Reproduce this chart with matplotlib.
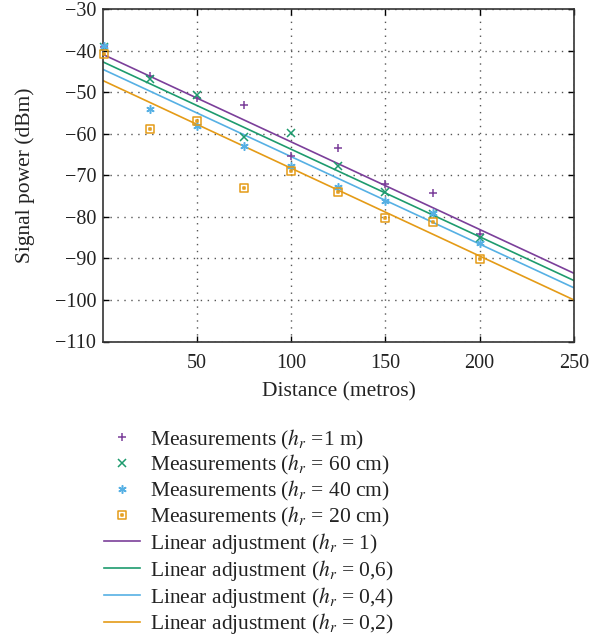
import numpy as np
import matplotlib
matplotlib.use("Agg")
import matplotlib.pyplot as plt
from matplotlib.path import Path

plt.rcParams['font.family'] = ['Liberation Serif', 'DejaVu Serif']
plt.rcParams['mathtext.fontset'] = 'stix'

# ---- data ----
distance = [1, 25, 50, 75, 100, 125, 150, 175, 200]
meas_1m = [-39.0, -46.1, -51.4, -53.1, -65.3, -63.5, -72.0, -74.3, -84.0]
meas_60cm = [-39.0, -46.9, -50.6, -60.8, -59.8, -67.7, -74.1, -79.2, -85.0]
meas_40cm = [-38.8, -54.1, -58.0, -62.9, -67.7, -72.9, -76.2, -79.0, -86.2]
meas_20cm = [-40.8, -58.9, -56.8, -73.0, -68.9, -73.9, -80.3, -81.2, -90.1]

# linear adjustment: intercept and slope (dBm, dBm/m)
fit_intercepts = [-40.8, -42.6, -44.4, -47.1]
fit_slopes = [-0.2111, -0.2109, -0.2107, -0.2116]

meas_labels = [r'Measurements ($h_r$ =1 m)', r'Measurements ($h_r$ = 60 cm)',
               r'Measurements ($h_r$ = 40 cm)', r'Measurements ($h_r$ = 20 cm)']
fit_labels = [r'Linear adjustment ($h_r$ = 1)', r'Linear adjustment ($h_r$ = 0,6)',
              r'Linear adjustment ($h_r$ = 0,4)', r'Linear adjustment ($h_r$ = 0,2)']

colors = ['#7B3F9A', '#1E9B6E', '#56B0E4', '#E49B17']
xticks = [50, 100, 150, 200, 250]
yticks = [-30, -40, -50, -60, -70, -80, -90, -100, -110]

# square-with-dot marker
sq_path = Path(
    [(-1, -1), (1, -1), (1, 1), (-1, 1), (-1, -1),
     (-0.25, -0.25), (0.25, -0.25), (0.25, 0.25), (-0.25, 0.25), (-0.25, -0.25)],
    [Path.MOVETO, Path.LINETO, Path.LINETO, Path.LINETO, Path.CLOSEPOLY,
     Path.MOVETO, Path.LINETO, Path.LINETO, Path.LINETO, Path.CLOSEPOLY])
markers = ['+', 'x', (6, 2, 0), sq_path]
msizes = [6, 6, 6, 6]

fig = plt.figure(figsize=(6.07, 6.35), dpi=100)
W, H = 607, 635
ax = fig.add_axes([103.3 / W, 1 - 341.5 / H, (574 - 103.3) / W, (341.5 - 9.3) / H])

handles = []
for vals, c, m, ms, lab in zip([meas_1m, meas_60cm, meas_40cm, meas_20cm], colors, markers, msizes, meas_labels):
    h, = ax.plot(distance, vals, linestyle='none', marker=m, color=c, markersize=ms,
                 markerfacecolor='none', markeredgewidth=1.1, label=lab, clip_on=False, zorder=3)
    handles.append(h)

xfit = np.array([0.5, 250])
for b, s, c, lab in zip(fit_intercepts, fit_slopes, colors, fit_labels):
    h, = ax.plot(xfit, b + s * xfit, color=c, linewidth=1.2, label=lab, zorder=2)
    handles.append(h)

ax.set_xlim(0.5, 250)
ax.set_ylim(-110, -30)
ax.set_xticks(xticks)
ax.set_yticks(yticks)
ax.set_yticklabels([('\u2212' + str(abs(v))) for v in yticks])
ax.tick_params(direction='in', length=4, width=1, top=True, right=True, labelsize=14.5,
               labelcolor='#222222')
ax.tick_params(axis='y', pad=5)
ax.tick_params(axis='x', pad=9)
for sp in ax.spines.values():
    sp.set_linewidth(1.2)
    sp.set_color('#333333')
ax.grid(True, linestyle=(0, (1, 4)), color='#555555', linewidth=1.0)
ax.set_axisbelow(True)
ax.set_xlabel('Distance (metros)', fontsize=15.5, labelpad=7, color='#222222')
ax.set_ylabel('Signal power (dBm)', fontsize=15.5, labelpad=14, color='#222222')

leg = fig.legend(handles=handles, loc='upper left', bbox_to_anchor=(104 / W, 1 - 427.5 / H),
                 frameon=False, fontsize=15.5, handlelength=1.65, handletextpad=0.5,
                 labelspacing=0.085, borderaxespad=0, borderpad=0)
for t in leg.get_texts():
    t.set_color('#222222')

fig.savefig('out.png', dpi=100)
